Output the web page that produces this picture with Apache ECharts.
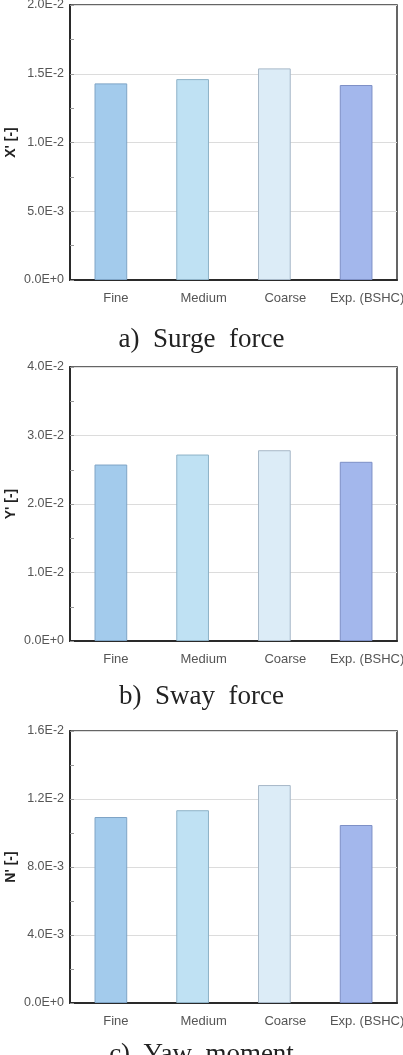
<!DOCTYPE html>
<html>
<head>
<meta charset="utf-8">
<script src="https://cdn.jsdelivr.net/npm/echarts@6/dist/echarts.min.js"></script>
<style>
html,body{margin:0;padding:0;background:#fff;}
#c{width:403px;height:1055px;}
</style>
</head>
<body>
<div id="c"></div>
<script>
var categories = ['Fine', 'Medium', 'Coarse', 'Exp. (BSHC)'];
var surgeValues = [0.0143, 0.01461, 0.01539, 0.01418];
var swayValues = [0.02576, 0.02722, 0.02785, 0.02616];
var yawValues = [0.01094, 0.01134, 0.01282, 0.01047];
var surgeTicks = ['0.0E+0', '5.0E-3', '1.0E-2', '1.5E-2', '2.0E-2'];
var swayTicks = ['0.0E+0', '1.0E-2', '2.0E-2', '3.0E-2', '4.0E-2'];
var yawTicks = ['0.0E+0', '4.0E-3', '8.0E-3', '1.2E-2', '1.6E-2'];
var yNames = ["X' [-]", "Y' [-]", "N' [-]"];
var captions = ['a)  Surge  force', 'b)  Sway  force', 'c)  Yaw  moment'];

var barColors = ['#a3cbec', '#bfe1f3', '#dcecf7', '#a3b7ec'];
var barBorders = ['#7ea4c6', '#8eb2c7', '#a7b8c8', '#7e90c6'];

var grids = [
  {left: 70, right: 6, top: 5, height: 275},
  {left: 70, right: 6, top: 367, height: 274},
  {left: 70, right: 6, top: 731, height: 272}
];
var panels = [
  {values: surgeValues, ticks: surgeTicks, max: 0.02, interval: 0.005},
  {values: swayValues, ticks: swayTicks, max: 0.04, interval: 0.01},
  {values: yawValues, ticks: yawTicks, max: 0.016, interval: 0.004}
];

var labelFont = {color: '#555', fontFamily: 'Arial, Liberation Sans, sans-serif', fontSize: 13};
var xRich = {
  a: Object.assign({padding: [0, 0, 0, 10]}, labelFont),
  b: Object.assign({padding: [0, 0, 0, 22]}, labelFont)
};

var xAxes = [], yAxes = [], series = [], titles = [];
panels.forEach(function (p, i) {
  grids[i].show = true;
  grids[i].borderColor = '#333';
  grids[i].borderWidth = 1.5;
  grids[i].containLabel = false;
  grids[i].outerBoundsMode = 'none';
  xAxes.push({
    type: 'category', gridIndex: i, data: categories,
    axisLine: {lineStyle: {color: '#2a2a2a', width: 2}},
    axisTick: {show: false},
    axisLabel: {
      color: '#555', fontFamily: 'Arial, Liberation Sans, sans-serif', fontSize: 13, margin: 12,
      interval: 0, hideOverlap: false, rich: xRich,
      formatter: function (v, idx) { return (idx === 0 ? '{a|' : '{b|') + v + '}'; }
    }
  });
  yAxes.push({
    type: 'value', gridIndex: i, min: 0, max: p.max, interval: p.interval,
    name: yNames[i], nameLocation: 'middle', nameGap: 52, nameMoveOverlap: false,
    nameTextStyle: {color: '#222', fontWeight: 'bold', fontSize: 14, fontFamily: 'Arial, Liberation Sans, sans-serif'},
    axisLine: {show: true, lineStyle: {color: '#2a2a2a', width: 2}},
    axisTick: {show: true, inside: true, length: 4, lineStyle: {color: '#999'}},
    minorTick: {show: true, splitNumber: 2, length: 4, lineStyle: {color: '#999'}},
    splitLine: {show: true, lineStyle: {color: '#dcdcdc', width: 1}},
    axisLabel: {
      color: '#555', fontSize: 12.5, margin: 6, fontFamily: 'Arial, Liberation Sans, sans-serif',
      formatter: (function (ticks, interval) {
        return function (v) { return ticks[Math.round(v / interval)]; };
      })(p.ticks, p.interval)
    }
  });
  series.push({
    type: 'bar', xAxisIndex: i, yAxisIndex: i, barWidth: '40%',
    data: p.values.map(function (v, k) {
      return {value: v, itemStyle: {color: barColors[k], borderColor: barBorders[k], borderWidth: 1}};
    })
  });
});

var capTops = [326, 683, 1041];
captions.forEach(function (t, i) {
  titles.push({
    text: t, left: 'center', top: capTops[i], padding: 0,
    textStyle: {fontFamily: 'Liberation Serif, Times New Roman, serif', fontWeight: 'normal', fontSize: 27, color: '#222'}
  });
});

var chart = echarts.init(document.getElementById('c'), null, {renderer: 'canvas'});
chart.setOption({
  animation: false,
  title: titles,
  grid: grids,
  xAxis: xAxes,
  yAxis: yAxes,
  series: series
});
</script>
</body>
</html>
